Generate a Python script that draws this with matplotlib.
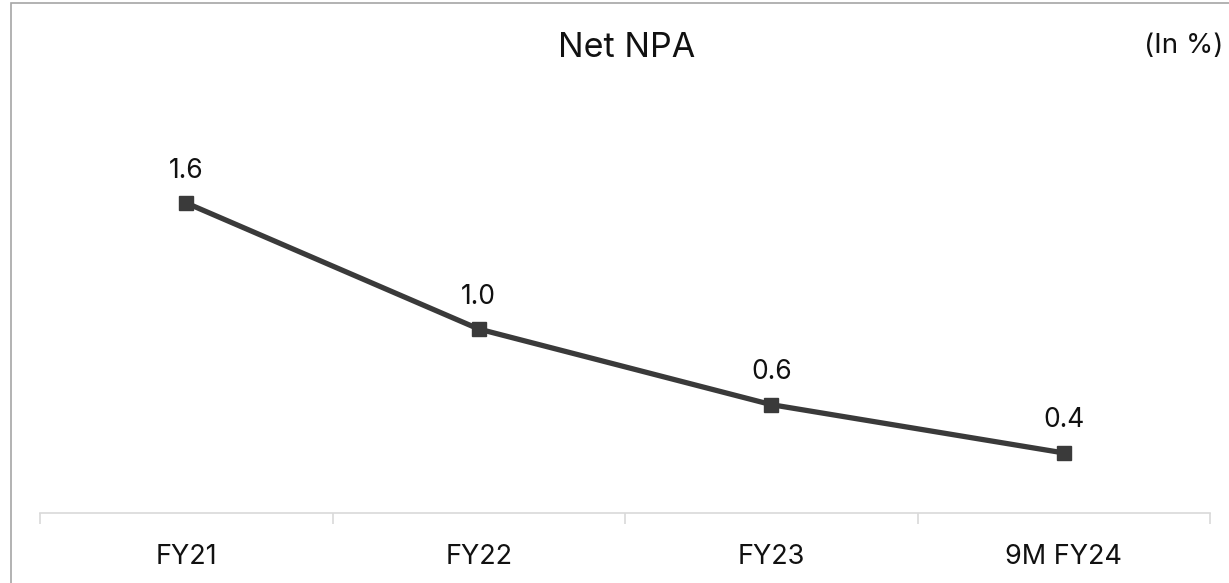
import matplotlib
matplotlib.use("Agg")
import matplotlib.pyplot as plt
from matplotlib.patches import Rectangle

# data
years = ["FY21", "FY22", "FY23", "9M FY24"]
net_npa = [1.57, 0.97, 0.61, 0.38]
labels = ["1.6", "1.0", "0.6", "0.4"]

plt.rcParams['font.family'] = ['Inter', 'DejaVu Sans']

W, H = 1229, 583
fig = plt.figure(figsize=(W / 100, H / 100), dpi=100)

# axes placed in pixel terms
left, right, bottom, top = 40, 1210, 513, 90
ax = fig.add_axes([left / W, 1 - bottom / H, (right - left) / W, (bottom - top) / H])

x = list(range(len(years)))
ax.plot(x, net_npa, color="#3a3a3a", lw=3.8, marker="s", markersize=10,
        markerfacecolor="#3a3a3a", markeredgecolor="#3a3a3a", solid_capstyle="round")

for xi, v, lab in zip(x, net_npa, labels):
    ax.annotate(lab, (xi, v), xytext=(0, 14), textcoords="offset points",
                ha="center", va="bottom", fontsize=19, color="#111111")

ax.set_xlim(-0.5, len(years) - 0.5)
ax.set_ylim(0.094, 2.108)

ax.set_xticks(x)
ax.set_xticklabels(years, fontsize=19.5, color="#111111")
ax.set_xticks([i - 0.5 for i in range(len(years) + 1)], minor=True)
ax.tick_params(axis="x", which="major", length=0, pad=22)
ax.tick_params(axis="x", which="minor", length=8, width=1.2, color="#d9d9d9", direction="out")
ax.set_yticks([])

for s in ["left", "right", "top"]:
    ax.spines[s].set_visible(False)
ax.spines["bottom"].set_color("#d9d9d9")
ax.spines["bottom"].set_linewidth(1.2)

fig.text(627 / W, 1 - 48 / H, "Net NPA", ha="center", va="center", fontsize=24.5, color="#111111")
fig.text(1223 / W, 1 - 46 / H, "(In %)", ha="right", va="center", fontsize=20, color="#111111")

# outer frame
fig.patches.append(Rectangle((11 / W, -0.1), 1.2, 1.1 - 3 / H, transform=fig.transFigure,
                             fill=False, edgecolor="#a6a6a6", lw=1.2, clip_on=False))

fig.savefig("out.png", dpi=100)
